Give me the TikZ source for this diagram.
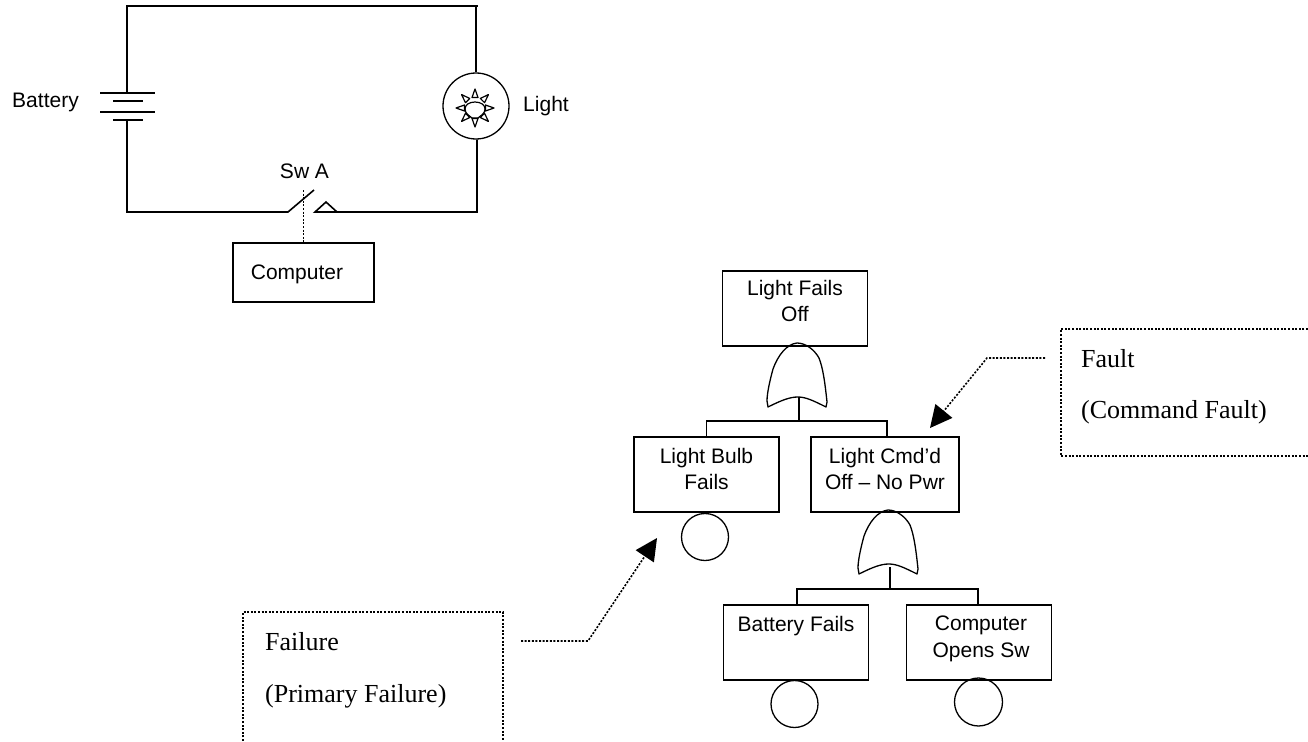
\documentclass[tikz,border=0pt]{standalone}
\usepackage{fontspec}
\setmainfont{Liberation Serif}
\newfontfamily\arialfont{Liberation Sans}
\usetikzlibrary{arrows.meta}
\tikzset{
  wire/.style={line width=1.6pt,black},
  thinwire/.style={line width=1.3pt,black},
  dots/.style={line width=1.6pt,black,dash pattern=on 2pt off 1.6pt},
  sanslabel/.style={font=\arialfont\fontsize{21}{26.5}\selectfont,text=black,inner sep=0pt,align=center},
  seriflabel/.style={font=\fontsize{26}{30}\selectfont,text=black,inner sep=0pt,anchor=base west},
  ftbox/.style={sanslabel,draw,line width=1.6pt,minimum width=145pt,minimum height=75pt,text depth=11.5pt},
  basic/.style={draw,circle,line width=1.3pt,minimum size=47pt,inner sep=0pt},
  pointer/.style={dots,-{Triangle[length=22pt,width=22pt,fill=black,line width=0pt]}},
  orgate/.pic={
    \draw[thinwire,line join=round]
      (-29,64) .. controls (-15,57) and (-7,54) .. (1,54)
      .. controls (9,54) and (17,58) .. (29,64)
      -- (30,59) .. controls (28,40) and (26,25) .. (22,15)
      .. controls (17,6) and (8,0) .. (0,0)
      .. controls (-10,1) and (-19,12) .. (-24,26)
      .. controls (-27,37) and (-30,50) .. (-30,58) -- cycle;
  }
}
\begin{document}
\begin{tikzpicture}[x=1pt,y=-1pt]
\useasboundingbox (0,0) rectangle (1308,741);
% circuit
\coordinate (tl) at (127,6);
\coordinate (tr) at (478,6);
\coordinate (bl) at (127,212);
\coordinate (br) at (477,212);
\coordinate (batTop) at (127,93);
\coordinate (batBot) at (127,120);
\node[draw,circle,line width=1.3pt,minimum size=66pt,inner sep=0pt] (lamp) at (476,106) {};
\draw[wire] (batTop) -- (tl) -- (tr);
\draw[wire] (476,6) -- (lamp.north);
\draw[wire] (batBot) -- (bl) -- (288,212) coordinate (swL) -- (314,190) coordinate (swT);
\draw[wire] (lamp.south -| br) -- (br) -- (315,212) coordinate (swC) -- (326,202) -- (337,212);
\draw[line width=2.4pt] (337,212) -- (363,212);
\draw[wire] (100,93) -- (155,93);
\draw[wire] (113,101) -- (143,101);
\draw[wire] (100,112) -- (155,112);
\draw[wire] (113,120) -- (143,120);
% bulb symbol
\draw[line width=1.2pt] (475,102) .. controls (481,102) and (485,105) .. (485,109)
  .. controls (485,114) and (480,116) .. (478,118) -- (472,118)
  .. controls (470,116) and (465,114) .. (465,109)
  .. controls (465,105) and (469,102) .. (475,102) -- cycle;
\foreach \a in {0,45,90,135,180,225,270,315}{
  \draw[line width=1.2pt,line join=round,rotate around={\a:(475,108)}]
    (485.5,105) -- (494,108) -- (485.5,111) -- cycle;
}
\node[sanslabel,anchor=base] (batlabel) at (45.5,108) {Battery};
\node[sanslabel,anchor=base] (lightlabel) at (546,112) {Light};
\node[sanslabel,anchor=base] (swlabel) at (304.5,178) {Sw A};
\node[draw,line width=1.6pt,minimum width=141pt,minimum height=59pt] (computer) at (303.5,272.5) {};
\node[sanslabel,anchor=base] (computerlabel) at (297,279) {Computer};
\draw[dots] (303.5,190) -- (computer.north);
% fault tree
\node[ftbox,text depth=15.5pt] (top) at (795,308.5) {Light Fails\\Off};
\node[ftbox] (bulb) at (706.5,474.5) {Light Bulb\\Fails};
\node[ftbox,minimum width=148pt] (cmd) at (885,474.5) {Light Cmd’d\\Off – No Pwr};
\node[ftbox] (battery) at (796,642.5) {Battery Fails\\~};
\node[ftbox] (compsw) at (979,642.5) {\hspace*{4pt}Computer\\\hspace*{4pt}Opens Sw};
\pic at (797,343) {orgate};
\pic at (888,510) {orgate};
\coordinate (g1s) at (799,397);
\coordinate (g1j) at (799,421);
\coordinate (g2s) at (890,567);
\coordinate (g2j) at (890,589);
\draw[wire] (g1s) -- (g1j);
\draw[wire] (g2s) -- (g2j);
\draw[wire] (bulb.north) |- (g1j) -| ([xshift=2pt]cmd.north);
\draw[wire] ([xshift=1pt]battery.north) |- (g2j) -| ([xshift=-1pt]compsw.north);
\node[basic] (c1) at (705,537) {};
\node[basic] (c2) at (794.5,704) {};
\node[basic,minimum size=48pt] (c3) at (978.5,702) {};
% callouts
\draw[dots] (243,741) -- (243,612) -- (503,612) -- (503,741);
\node[seriflabel] (failure) at (265,650) {Failure};
\node[seriflabel] (primary) at (265,702) {(Primary Failure)};
\coordinate (f0) at (521,641);
\coordinate (f1) at (588,641);
\coordinate (f2) at (657,538);
\draw[pointer] (f0) -- (f1) -- (f2);
\draw[dots] (1308,329) -- (1061,329) -- (1061,456) -- (1308,456);
\node[seriflabel] (fault) at (1081,367) {Fault};
\node[seriflabel] (command) at (1081,418) {(Command Fault)};
\coordinate (g0) at (1045,358);
\coordinate (g1) at (987,358);
\coordinate (g2) at (930,428);
\draw[pointer] (g0) -- (g1) -- (g2);
\end{tikzpicture}
\end{document}
